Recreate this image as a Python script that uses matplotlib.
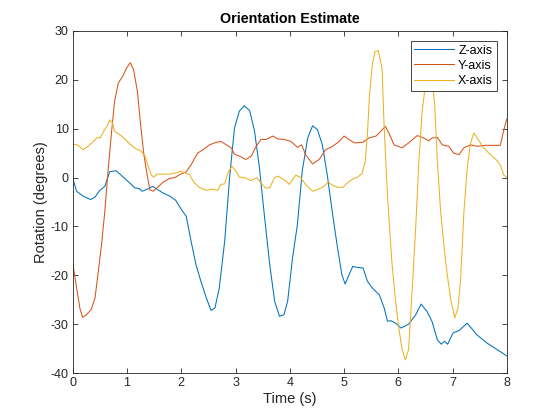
import matplotlib
matplotlib.use("Agg")
import matplotlib.pyplot as plt

# Z-axis (blue)
z_t = [0.0, 0.07, 0.19, 0.33, 0.41, 0.5, 0.59, 0.68, 0.8, 0.93, 1.05, 1.14, 1.23, 1.28, 1.39, 1.47,
       1.57, 1.67, 1.79, 1.9, 1.97, 2.03, 2.09, 2.18, 2.27, 2.36, 2.46, 2.55, 2.62, 2.70, 2.80, 2.89,
       2.98, 3.07, 3.16, 3.26, 3.35, 3.44, 3.53, 3.63, 3.72, 3.81, 3.89, 3.96, 4.05, 4.14, 4.23, 4.33,
       4.42, 4.51, 4.60, 4.69, 4.79, 4.88, 4.96, 5.02, 5.08, 5.16, 5.25, 5.35, 5.43, 5.52, 5.65, 5.74,
       5.80, 5.86, 5.95, 6.05, 6.19, 6.32, 6.42, 6.53, 6.62, 6.72, 6.79, 6.85, 6.91, 7.01, 7.12, 7.27,
       7.45, 7.64, 7.82, 8.0]
z_v = [-0.2, -2.8, -3.8, -4.5, -4.0, -2.6, -1.8, 1.2, 1.4, 0.1, -1.1, -2.1, -2.3, -2.8, -2.3, -1.8,
       -2.5, -3.2, -3.8, -4.7, -6.0, -7.0, -7.9, -13.0, -17.8, -21.2, -24.6, -27.2, -26.7, -22.6, -13.0, 0.0,
       10.1, 13.6, 14.7, 13.7, 9.5, 2.0, -7.6, -17.8, -25.3, -28.4, -28.1, -25.3, -16.5, -9.6, 1.4, 8.1,
       10.6, 9.8, 6.7, 0.6, -7.6, -14.4, -19.9, -21.8, -20.2, -18.2, -18.4, -18.5, -21.2, -22.6, -24.0, -26.7,
       -29.4, -29.3, -29.8, -30.8, -30.0, -28.1, -25.9, -27.4, -29.4, -33.2, -34.1, -33.5, -34.1, -31.8, -31.3, -29.8,
       -32.2, -33.9, -35.2, -36.5]

# Y-axis (red)
y_t = [0.0, 0.07, 0.13, 0.18, 0.25, 0.34, 0.41, 0.47, 0.53, 0.59, 0.65, 0.71, 0.77, 0.84, 0.92, 0.99,
       1.06, 1.12, 1.19, 1.25, 1.31, 1.37, 1.42, 1.48, 1.55, 1.67, 1.78, 1.88, 1.97, 2.05, 2.09, 2.18,
       2.30, 2.40, 2.52, 2.64, 2.73, 2.83, 2.92, 2.98, 3.07, 3.19, 3.29, 3.38, 3.47, 3.56, 3.69, 3.78,
       3.90, 4.02, 4.14, 4.22, 4.29, 4.42, 4.54, 4.66, 4.79, 4.91, 5.00, 5.09, 5.19, 5.34, 5.46, 5.59,
       5.68, 5.76, 5.84, 5.92, 6.07, 6.19, 6.35, 6.47, 6.56, 6.62, 6.72, 6.81, 6.93, 7.02, 7.12, 7.21,
       7.33, 7.45, 7.61, 7.76, 7.88, 7.94, 8.0]
y_v = [-17.5, -22.6, -26.7, -28.6, -28.1, -27.0, -24.6, -19.2, -13.7, -6.9, 1.4, 8.8, 15.6, 19.4, 20.7, 22.4,
       23.5, 22.1, 17.7, 10.8, 4.7, 0.6, -2.5, -2.8, -2.1, -0.9, -0.2, 0.0, 0.6, 1.0, 1.2, 2.6,
       5.0, 5.7, 6.7, 7.2, 7.4, 6.7, 6.1, 4.8, 4.4, 3.7, 4.4, 6.4, 7.8, 7.8, 8.5, 7.9,
       7.8, 7.4, 6.2, 6.7, 4.7, 2.8, 3.7, 5.7, 6.4, 7.4, 8.5, 7.8, 7.1, 7.2, 8.1, 8.5,
       9.5, 10.5, 8.8, 6.7, 6.1, 7.1, 8.6, 8.1, 7.5, 8.1, 8.2, 6.7, 6.4, 5.0, 4.7, 6.1,
       6.7, 6.4, 6.6, 6.6, 6.6, 9.5, 12.0]

# X-axis (yellow)
x_t = [0.0, 0.1, 0.19, 0.28, 0.37, 0.44, 0.51, 0.57, 0.63, 0.68, 0.73, 0.77, 0.85, 0.94, 1.05, 1.16,
       1.25, 1.33, 1.39, 1.45, 1.49, 1.55, 1.67, 1.79, 1.91, 1.98, 2.06, 2.15, 2.24, 2.33, 2.46, 2.58,
       2.67, 2.73, 2.80, 2.86, 2.93, 3.01, 3.07, 3.16, 3.29, 3.39, 3.47, 3.55, 3.63, 3.72, 3.78, 3.87,
       3.93, 3.99, 4.11, 4.20, 4.29, 4.42, 4.54, 4.63, 4.71, 4.79, 4.88, 4.98, 5.06, 5.16, 5.25, 5.33,
       5.39, 5.43, 5.47, 5.52, 5.57, 5.63, 5.70, 5.74, 5.80, 5.88, 5.95, 6.01, 6.07, 6.13, 6.19, 6.25,
       6.32, 6.38, 6.44, 6.50, 6.56, 6.62, 6.67, 6.72, 6.78, 6.87, 6.96, 7.04, 7.10, 7.15, 7.21, 7.27,
       7.33, 7.39, 7.45, 7.55, 7.67, 7.80, 7.88, 7.94, 8.0]
x_v = [6.9, 6.6, 5.7, 6.4, 7.3, 8.1, 8.2, 9.5, 10.5, 11.8, 11.2, 9.5, 8.9, 8.1, 6.9, 5.9,
       5.5, 4.4, 2.3, 0.5, 0.1, 0.7, 0.7, 0.7, 1.0, 1.3, 1.0, 0.6, -1.1, -2.0, -2.6, -2.4,
       -2.6, -1.4, -1.3, 1.0, 2.3, 1.3, 0.1, 0.0, -0.6, 0.0, -1.1, -2.1, -2.1, 0.0, 0.3, -0.3,
       -0.7, -1.4, 0.5, 0.0, -1.4, -2.8, -2.3, -1.8, -0.9, -1.6, -2.0, -2.0, -1.1, -0.3, 0.1, 0.8,
       3.3, 8.8, 17.0, 23.1, 25.8, 26.0, 22.4, 10.1, -3.5, -17.1, -25.3, -30.8, -35.2, -37.3, -35.2, -24.0,
       -10.3, 3.3, 13.6, 19.0, 22.5, 20.5, 15.0, 3.3, -6.9, -17.1, -24.6, -28.7, -26.7, -20.5, -6.9, 2.0,
       6.9, 9.1, 8.2, 6.4, 5.0, 3.7, 2.6, 0.6, 0.0]

series_labels = ["Z-axis", "Y-axis", "X-axis"]
x_ticks = [0, 1, 2, 3, 4, 5, 6, 7, 8]
y_ticks = [-40, -30, -20, -10, 0, 10, 20, 30]

plt.rcParams['font.family'] = ['Liberation Sans', 'DejaVu Sans']
plt.rcParams['axes.unicode_minus'] = False

fig = plt.figure(figsize=(5.6, 4.2), dpi=100)
ax = fig.add_axes([0.13, 0.1119, 0.775, 0.8143])

ax.plot(z_t, z_v, color='#0072BD', lw=0.75, label=series_labels[0])
ax.plot(y_t, y_v, color='#D95319', lw=0.75, label=series_labels[1])
ax.plot(x_t, x_v, color='#EDB120', lw=0.75, label=series_labels[2])

ax.set_xlim(0, 8)
ax.set_ylim(-40, 30)
ax.set_xticks(x_ticks)
ax.set_yticks(y_ticks)
ax.tick_params(direction='in', top=True, right=True, labelsize=9, length=3.5,
               width=0.6, colors='#262626', pad=3)
for s in ax.spines.values():
    s.set_linewidth(0.6)
    s.set_color('#262626')

ax.set_xlabel('Time (s)', fontsize=10.5, color='#262626', labelpad=2)
ax.set_ylabel('Rotation (degrees)', fontsize=10.5, color='#262626', labelpad=2)
ax.set_title('Orientation Estimate', fontsize=10.3, fontweight='bold', color='black', pad=6)

leg = ax.legend(loc='upper right', fontsize=9, frameon=True, fancybox=False,
                edgecolor='#262626', borderpad=0.3, labelspacing=0.25,
                handlelength=3.2, handletextpad=0.3, borderaxespad=0.8,
                framealpha=1)
leg.get_frame().set_linewidth(0.6)

fig.savefig('out.png', dpi=100)
